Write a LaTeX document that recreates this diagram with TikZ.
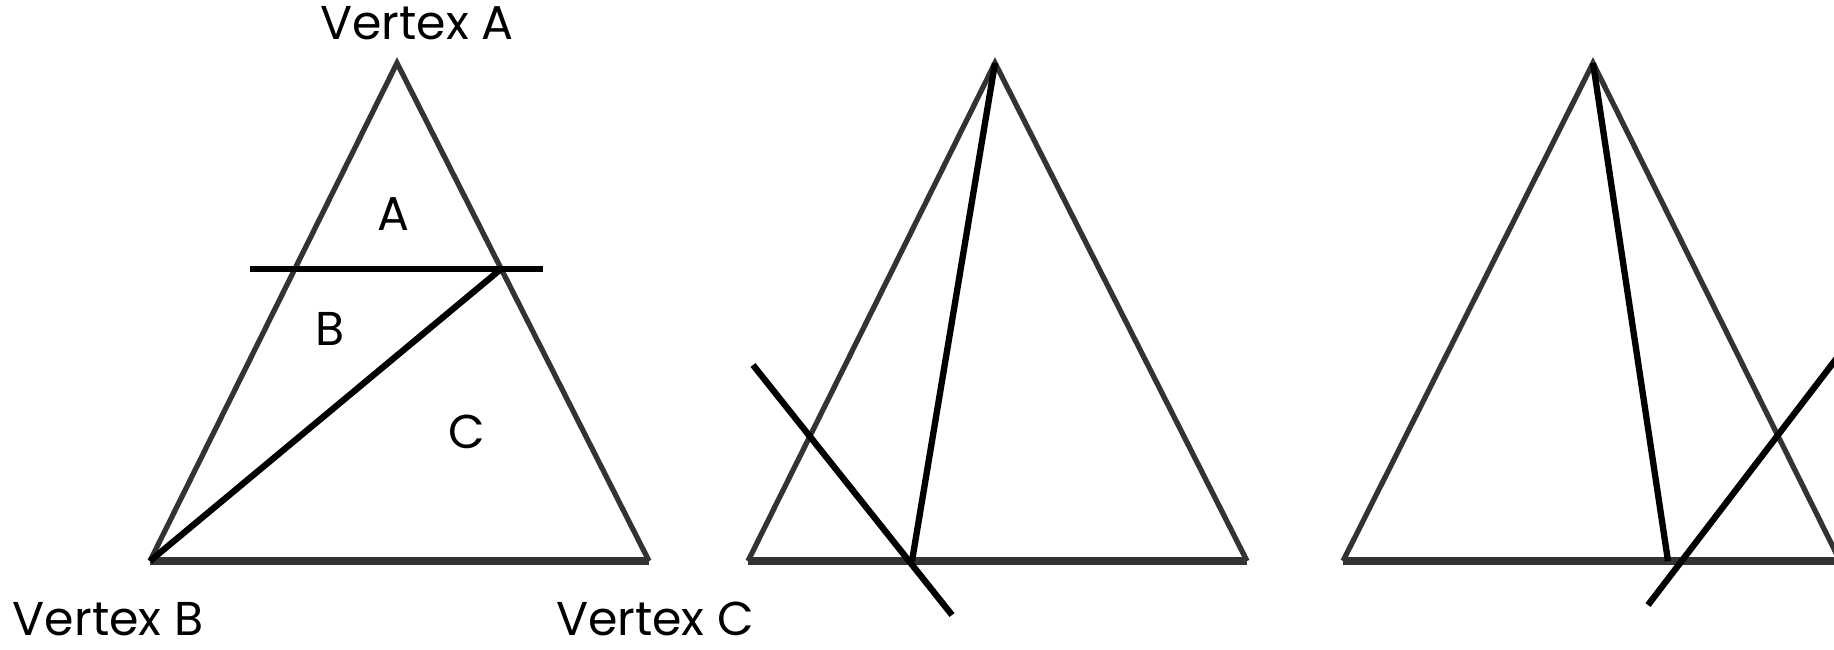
\documentclass[tikz,border=0pt]{standalone}
\usepackage{fontspec}
\setmainfont{Poppins}
\usetikzlibrary{positioning,calc}

\begin{document}
\begin{tikzpicture}[
    x=0.02cm, y=-0.02cm,
    every node/.style={font=\fontsize{27}{30}\selectfont, inner sep=0pt},
    side/.style={line width=3pt, draw=black!80},
    base/.style={line width=4.2pt, draw=black!80},
    cut/.style={line width=3.6pt, draw=black}
]
\useasboundingbox (0,0) rectangle (1834,649);
\clip (0,0) rectangle (1834,649);

% Left triangle: three regions
\coordinate (A1) at (397,63);
\coordinate (B1) at (150,561);
\coordinate (C1) at (649,561);
\coordinate (h1) at (250,269);
\coordinate (h2) at (543,269);
\coordinate (d1) at (501,269);

\draw[side] (B1) -- (A1) -- (C1);
\draw[base] (B1) -- (C1);
\draw[cut] (h1) -- (h2);
\draw[cut] (B1) -- (d1);

\node (vA) at (417,23) {Vertex A};
\node (vB) at (108,619) {Vertex B};
\node (vC) at (655,619) {Vertex C};

\node (rA) at (393,214) {A};
\node (rB) at (330,329) {B};
\node (rC) at (467,432) {C};

% Middle triangle
\coordinate (A2) at (995,63);
\coordinate (B2) at (748,561);
\coordinate (C2) at (1247,561);
\coordinate (m1) at (912,561);
\coordinate (x1) at (753,365);
\coordinate (x2) at (952,615);

\draw[side] (B2) -- (A2) -- (C2);
\draw[base] (B2) -- (C2);
\draw[cut] (A2) -- (m1);
\draw[cut] (x1) -- (x2);

% Right triangle (cut off at the edge)
\coordinate (A3) at (1593,63);
\coordinate (B3) at (1343,561);
\coordinate (C3) at (1840,561);
\coordinate (m3) at (1668,561);
\coordinate (y1) at (1648,605);
\coordinate (y2) at (1872,312);

\draw[side] (B3) -- (A3) -- (C3);
\draw[base] (B3) -- (C3);
\draw[cut] (A3) -- (m3);
\draw[cut] (y1) -- (y2);

\end{tikzpicture}
\end{document}
